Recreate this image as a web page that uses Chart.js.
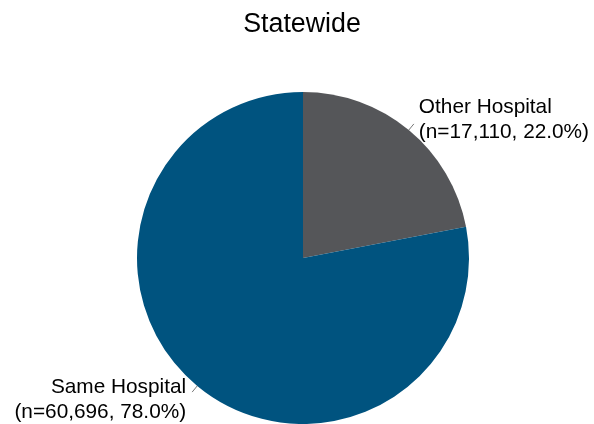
<!DOCTYPE html>
<html>
<head>
<meta charset="utf-8">
<title>Statewide</title>
<script src="https://cdn.jsdelivr.net/npm/chart.js@4.4.0/dist/chart.umd.min.js"></script>
<style>
    html, body { margin: 0; padding: 0; background: #fff; }
    #wrap { width: 594px; height: 424px; }
</style>
</head>
<body>
<div id="wrap"><canvas id="myChart" width="594" height="424"></canvas></div>
<script>
/*** Chart data ***/
const chartTitle = "Statewide";
const categories = ["Other Hospital", "Same Hospital"];
const counts = [17110, 60696];
const sliceColors = ["#555659", "#00537f"];

const fontName = "'Liberation Sans', Arial, sans-serif";

/*** Label plugin - draws title, leader lines and slice labels ***/
const sliceLabels = {
    id: "sliceLabels",
    afterDraw(chart) {
        const ctx = chart.ctx;
        const total = counts.reduce((a, b) => a + b, 0);
        ctx.save();
        ctx.fillStyle = "#000";

        // title
        ctx.font = "26.8px " + fontName;
        ctx.textAlign = "center";
        ctx.textBaseline = "alphabetic";
        ctx.fillText(chartTitle, 302, 32);

        const arcs = chart.getDatasetMeta(0).data;
        ctx.font = "20.8px " + fontName;
        ctx.strokeStyle = "#777";
        ctx.lineWidth = 1;
        arcs.forEach((arc, i) => {
            const p = arc.getProps(["x", "y", "startAngle", "endAngle", "outerRadius"], true);
            const mid = (p.startAngle + p.endAngle) / 2;
            const cx = Math.cos(mid), cy = Math.sin(mid);
            const x0 = p.x + cx * p.outerRadius, y0 = p.y + cy * p.outerRadius;
            const x1 = p.x + cx * (p.outerRadius + 8), y1 = p.y + cy * (p.outerRadius + 8);
            ctx.beginPath();
            ctx.moveTo(x0, y0);
            ctx.lineTo(x1, y1);
            ctx.stroke();

            const line1 = categories[i];
            const line2 = "(n=" + counts[i].toLocaleString("en-US") + ", " + (counts[i] / total * 100).toFixed(1) + "%)";
            if (cx >= 0) {
                ctx.textAlign = "left";
                ctx.fillText(line1, x1 + 5, y1 - 11);
                ctx.fillText(line2, x1 + 5, y1 + 14);
            } else {
                ctx.textAlign = "right";
                ctx.fillText(line1, x1 - 6, y1 + 1);
                ctx.fillText(line2, x1 - 6, y1 + 26);
            }
        });
        ctx.restore();
    }
};

function renderChart() {
    const ctx = document.getElementById("myChart").getContext("2d");
    window.myChart = new Chart(ctx, {
        type: "pie",
        data: {
            labels: categories,
            datasets: [{
                data: counts,
                backgroundColor: sliceColors,
                borderWidth: 0
            }]
        },
        options: {
            responsive: false,
            animation: false,
            layout: { padding: { top: 92, bottom: 0, left: 12, right: 0 } },
            plugins: {
                legend: { display: false },
                title: { display: false },
                tooltip: { enabled: false }
            }
        },
        plugins: [sliceLabels]
    });
}
renderChart();
</script>
</body>
</html>
